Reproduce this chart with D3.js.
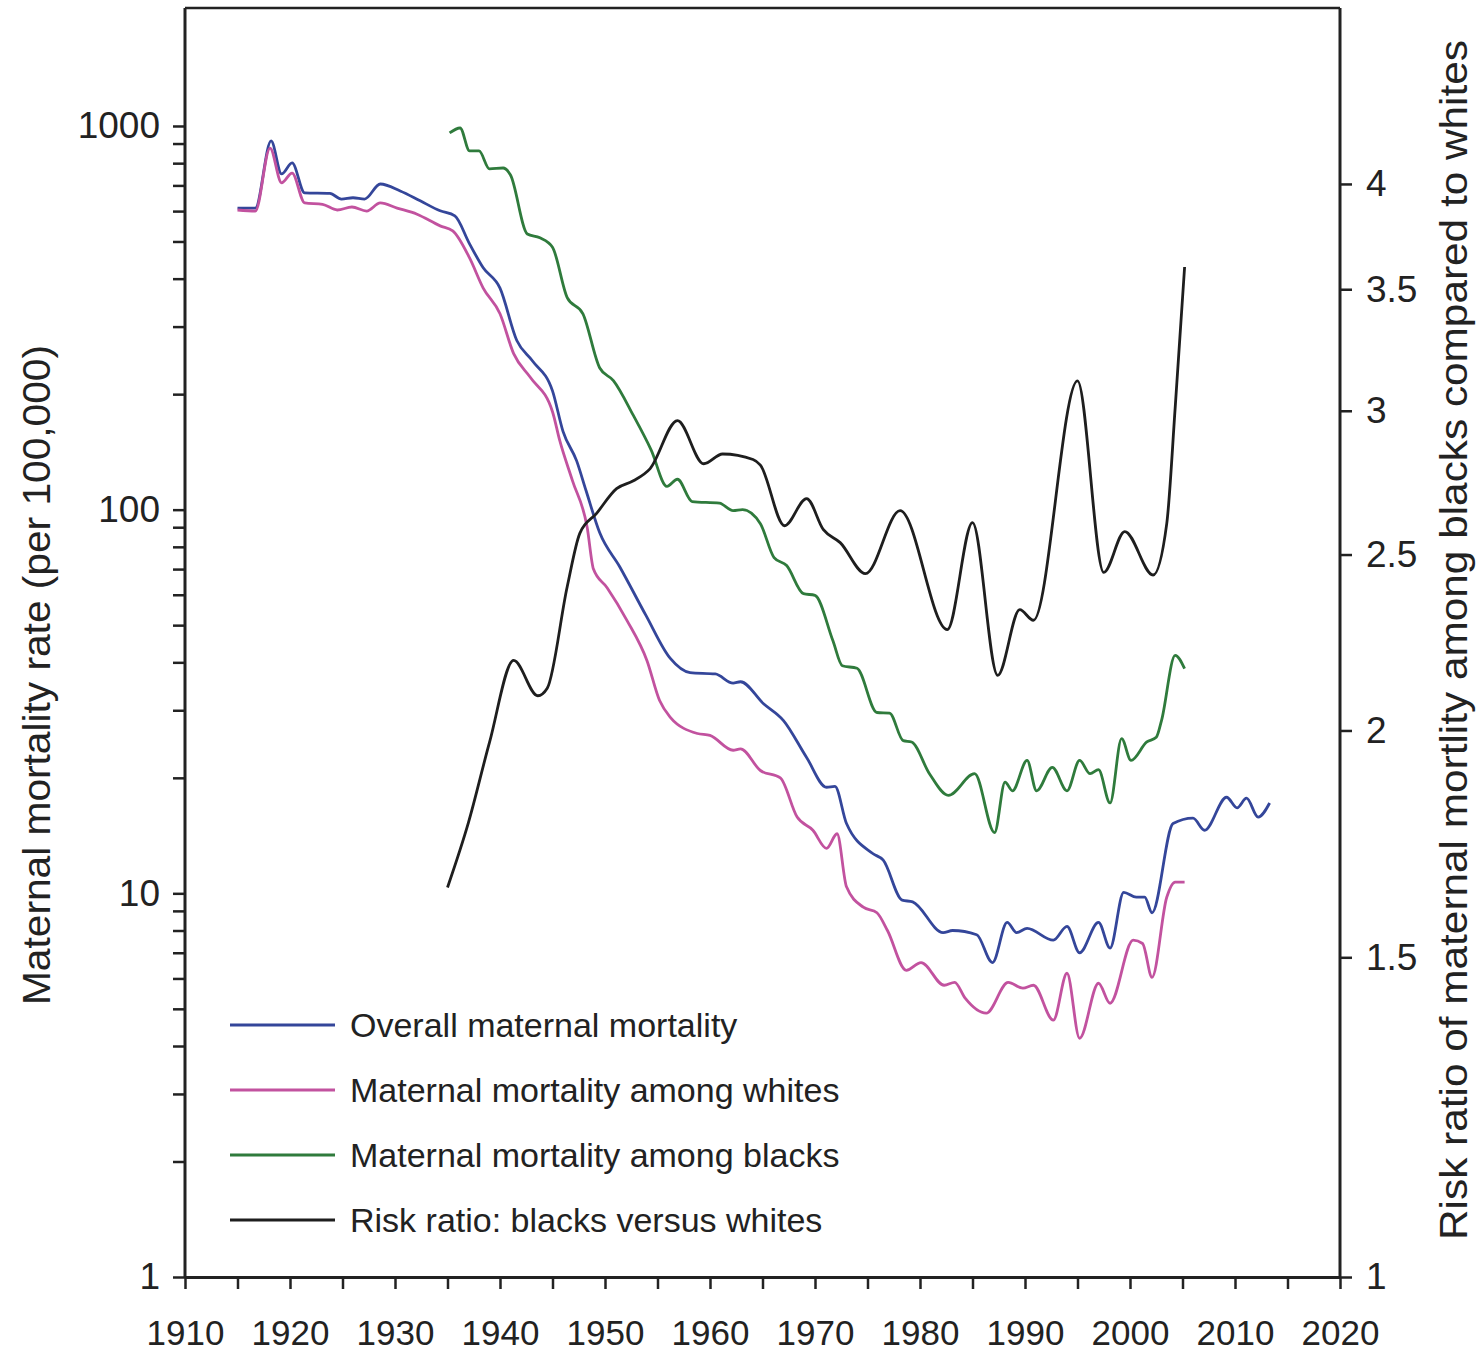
<!DOCTYPE html>
<html>
<head>
<meta charset="utf-8">
<script src="https://cdn.jsdelivr.net/npm/d3@7"></script>
<style>
  body { margin: 0; background: #fff; }
  text { font-family: "Liberation Sans", Arial, sans-serif; fill: #222; }
</style>
</head>
<body>
<svg id="chart" width="1481" height="1354"></svg>
<script>
// [year, deaths per 100,000]
const overall = [
  [1915, 611], [1916.7, 611], [1918.2, 914], [1919.2, 750], [1920.2, 801], [1921.4, 669],
  [1923.8, 667], [1924.9, 645], [1926, 650], [1927.1, 645], [1928.6, 706], [1930.5, 677],
  [1932.4, 638], [1934.3, 601], [1935.7, 583], [1937.1, 493], [1938.4, 427], [1940, 378],
  [1941.6, 276], [1943.1, 244], [1945, 204], [1946, 160], [1947.3, 134], [1948.2, 112],
  [1949.5, 87], [1951.4, 71], [1953.9, 53], [1956.2, 41], [1958.1, 37.6], [1960.5, 37.3],
  [1962.2, 35.3], [1962.9, 35.6], [1965.1, 31.2], [1967, 28.2], [1969.2, 22.6], [1971.1, 18.9],
  [1971.9, 19], [1973, 15.2], [1975.5, 12.7], [1976.5, 12.2], [1978.3, 9.6], [1979.3, 9.5],
  [1982.2, 7.9], [1983.1, 8.0], [1985.4, 7.8], [1986.9, 6.6], [1988.3, 8.4], [1989.2, 7.9],
  [1990.2, 8.1], [1992.7, 7.55], [1994, 8.2], [1995.2, 7.0], [1997, 8.4], [1998.1, 7.2],
  [1999.4, 10.06], [2000.6, 9.77], [2001.4, 9.77], [2002.1, 8.9], [2004.1, 15.2], [2006, 15.7],
  [2007.1, 14.6], [2009.2, 17.8], [2010.2, 16.7], [2011.1, 17.7], [2012.2, 15.8], [2013.3, 17.2]
];

const whites = [
  [1915, 604], [1916.7, 600], [1918.1, 876], [1919.2, 711], [1920.2, 754], [1921.4, 630],
  [1923.1, 625], [1924.5, 604], [1925.9, 615], [1927.3, 600], [1928.6, 630], [1930.2, 611],
  [1932.1, 589], [1934.3, 549], [1935.5, 533], [1937.1, 453], [1938.4, 378], [1940, 324],
  [1941.3, 255], [1942.9, 221], [1945, 180], [1945.7, 151], [1946.9, 119], [1948.3, 90],
  [1948.9, 70], [1950.2, 62.6], [1952.1, 51.4], [1954, 40.4], [1955.2, 31.8], [1956.2, 28.8],
  [1958.8, 26.1], [1960, 25.8], [1962.2, 23.6], [1962.9, 23.8], [1964.8, 20.9], [1966.7, 20],
  [1968.3, 15.8], [1969.8, 14.6], [1971.1, 13.1], [1972.1, 14.3], [1973, 10.4], [1974.6, 9.2],
  [1975.9, 8.9], [1976.9, 8.0], [1978.7, 6.3], [1980.1, 6.6], [1982.3, 5.76], [1983.3, 5.86],
  [1984.3, 5.33], [1986.3, 4.87], [1988.4, 5.86], [1989.8, 5.66], [1990.8, 5.76], [1992.7, 4.67],
  [1994, 6.19], [1995.2, 4.19], [1997, 5.83], [1998.1, 5.17], [2000.3, 7.55], [2001.2, 7.4],
  [2002.1, 6.04], [2003.5, 9.77], [2004.3, 10.7], [2005.2, 10.7]
];

const blacks = [
  [1935.2, 959], [1936.2, 988], [1937.1, 861], [1938, 861], [1939, 773], [1940.3, 777],
  [1941, 745], [1942.6, 523], [1943.8, 511], [1945, 483], [1946.4, 357], [1947.9, 324],
  [1949.5, 234], [1950.8, 217], [1952.7, 176], [1954.4, 143], [1955.9, 115], [1956.9, 120],
  [1958.3, 105], [1960.9, 104], [1962.2, 99.4], [1963.1, 100], [1964.8, 91.9], [1966.1, 75],
  [1967.3, 71.5], [1968.9, 60.4], [1970, 59.8], [1971.7, 45.6], [1972.6, 39.2], [1974, 38.6],
  [1975.9, 29.6], [1977.1, 29.5], [1978.4, 25], [1979.2, 24.8], [1980.9, 20.5], [1982.7, 18],
  [1985.2, 20.5], [1987.1, 14.4], [1988.1, 19.5], [1988.8, 18.5], [1990.2, 22.2], [1991.1, 18.5],
  [1992.6, 21.3], [1994, 18.5], [1995.2, 22.2], [1996.2, 20.5], [1997, 21], [1998.1, 17.2],
  [1999.2, 25.3], [2000.1, 22.2], [2001.6, 24.8], [2002.5, 25.5], [2003, 28.2], [2004.3, 41.7],
  [2005.2, 38.5]
];

// [year, risk ratio] on the right axis
const ratio = [
  [1935, 1.639], [1937, 1.78], [1939, 1.97], [1941.3, 2.186], [1943.6, 2.09], [1944.5, 2.11],
  [1946.4, 2.40], [1947.6, 2.568], [1949.2, 2.634], [1951.1, 2.718], [1952.7, 2.745], [1954.3, 2.788],
  [1956.9, 2.963], [1959.4, 2.805], [1961.2, 2.84], [1964.1, 2.82], [1964.8, 2.80], [1967.1, 2.593],
  [1969.2, 2.684], [1970.8, 2.58], [1972.4, 2.538], [1974.8, 2.44], [1978.1, 2.643], [1982.6, 2.273],
  [1985, 2.603], [1987.4, 2.145], [1989.5, 2.331], [1990.8, 2.30], [1995, 3.116], [1997.5, 2.444],
  [1999.5, 2.574], [2002.2, 2.436], [2003.5, 2.60], [2004.3, 3.01], [2005.2, 3.60]
];

const yearTicks = d3.range(1910, 2021, 5);
const leftTicks = [1, 2, 3, 4, 5, 6, 7, 8, 9, 10, 20, 30, 40, 50, 60, 70, 80, 90,
  100, 200, 300, 400, 500, 600, 700, 800, 900, 1000];
const leftLabels = [1, 10, 100, 1000];
const rightTicks = [1, 1.5, 2, 2.5, 3, 3.5, 4];

const legendItems = [
  { name: "Overall maternal mortality", color: "#34469a" },
  { name: "Maternal mortality among whites", color: "#c2529f" },
  { name: "Maternal mortality among blacks", color: "#2f7b3c" },
  { name: "Risk ratio: blacks versus whites", color: "#1e1e1e" }
];

const plotLeft = 185, plotRight = 1340, plotTop = 8, plotBottom = 1277;
const svg = d3.select("#chart");

const x = d3.scaleLinear().domain([1910, 2020]).range([plotLeft, plotRight]);
const yL = d3.scaleLog().domain([1, 2030]).range([plotBottom, plotTop]);
const yR = d3.scaleLog().domain([1, 5]).range([plotBottom, plotTop]);

// frame top
svg.append("line")
  .attr("x1", plotLeft).attr("x2", plotRight).attr("y1", plotTop).attr("y2", plotTop)
  .attr("stroke", "#222").attr("stroke-width", 2.5);

function styleAxis(g, size) {
  g.select(".domain").attr("stroke", "#222").attr("stroke-width", 3);
  g.selectAll(".tick line").attr("stroke", "#222").attr("stroke-width", 2.5);
  g.selectAll(".tick text").style("font-size", size + "px").attr("fill", "#222");
}

const gx = svg.append("g")
  .attr("transform", `translate(0,${plotBottom})`)
  .call(d3.axisBottom(x).tickValues(yearTicks).tickSize(12).tickSizeOuter(0)
    .tickFormat((d) => (d % 10 === 0 ? d : "")).tickPadding(31));
styleAxis(gx, 35);

const gl = svg.append("g")
  .attr("transform", `translate(${plotLeft},0)`)
  .call(d3.axisLeft(yL).tickValues(leftTicks).tickSize(12).tickSizeOuter(0)
    .tickFormat((d) => (leftLabels.includes(d) ? d : "")).tickPadding(13));
styleAxis(gl, 37);
gl.select(".domain").attr("d", `M0,${plotTop}V${plotBottom}`);

const gr = svg.append("g")
  .attr("transform", `translate(${plotRight},0)`)
  .call(d3.axisRight(yR).tickValues(rightTicks).tickSize(12).tickSizeOuter(0)
    .tickFormat((d) => d).tickPadding(14));
styleAxis(gr, 37);
gr.select(".domain").attr("d", `M0,${plotTop}V${plotBottom}`);

// axis titles
svg.append("text")
  .attr("transform", `translate(50,675) rotate(-90)`)
  .attr("text-anchor", "middle")
  .attr("textLength", 660).attr("lengthAdjust", "spacingAndGlyphs")
  .style("font-size", "38px")
  .text("Maternal mortality rate (per 100,000)");

svg.append("text")
  .attr("transform", `translate(1467,640) rotate(-90)`)
  .attr("text-anchor", "middle")
  .attr("textLength", 1200).attr("lengthAdjust", "spacingAndGlyphs")
  .style("font-size", "38px")
  .text("Risk ratio of maternal mortlity among blacks compared to whites");

const lineL = d3.line().x((d) => x(d[0])).y((d) => yL(d[1])).curve(d3.curveMonotoneX);
const lineR = d3.line().x((d) => x(d[0])).y((d) => yR(d[1])).curve(d3.curveMonotoneX);

const series = [
  { data: overall, line: lineL, color: legendItems[0].color },
  { data: whites, line: lineL, color: legendItems[1].color },
  { data: blacks, line: lineL, color: legendItems[2].color },
  { data: ratio, line: lineR, color: legendItems[3].color }
];

svg.selectAll("path.series")
  .data(series)
  .enter()
  .append("path")
  .attr("class", "series")
  .attr("fill", "none")
  .attr("stroke", (d) => d.color)
  .attr("stroke-width", 2.8)
  .attr("stroke-linejoin", "round")
  .attr("d", (d) => d.line(d.data));

// legend
const legend = svg.append("g");
const item = legend.selectAll("g")
  .data(legendItems)
  .enter()
  .append("g")
  .attr("transform", (d, i) => `translate(230,${1025 + i * 65})`);

item.append("line")
  .attr("x1", 0).attr("x2", 105)
  .attr("stroke", (d) => d.color)
  .attr("stroke-width", 3);

item.append("text")
  .attr("x", 120)
  .attr("dy", "0.35em")
  .style("font-size", "34px")
  .text((d) => d.name);
</script>
</body>
</html>
